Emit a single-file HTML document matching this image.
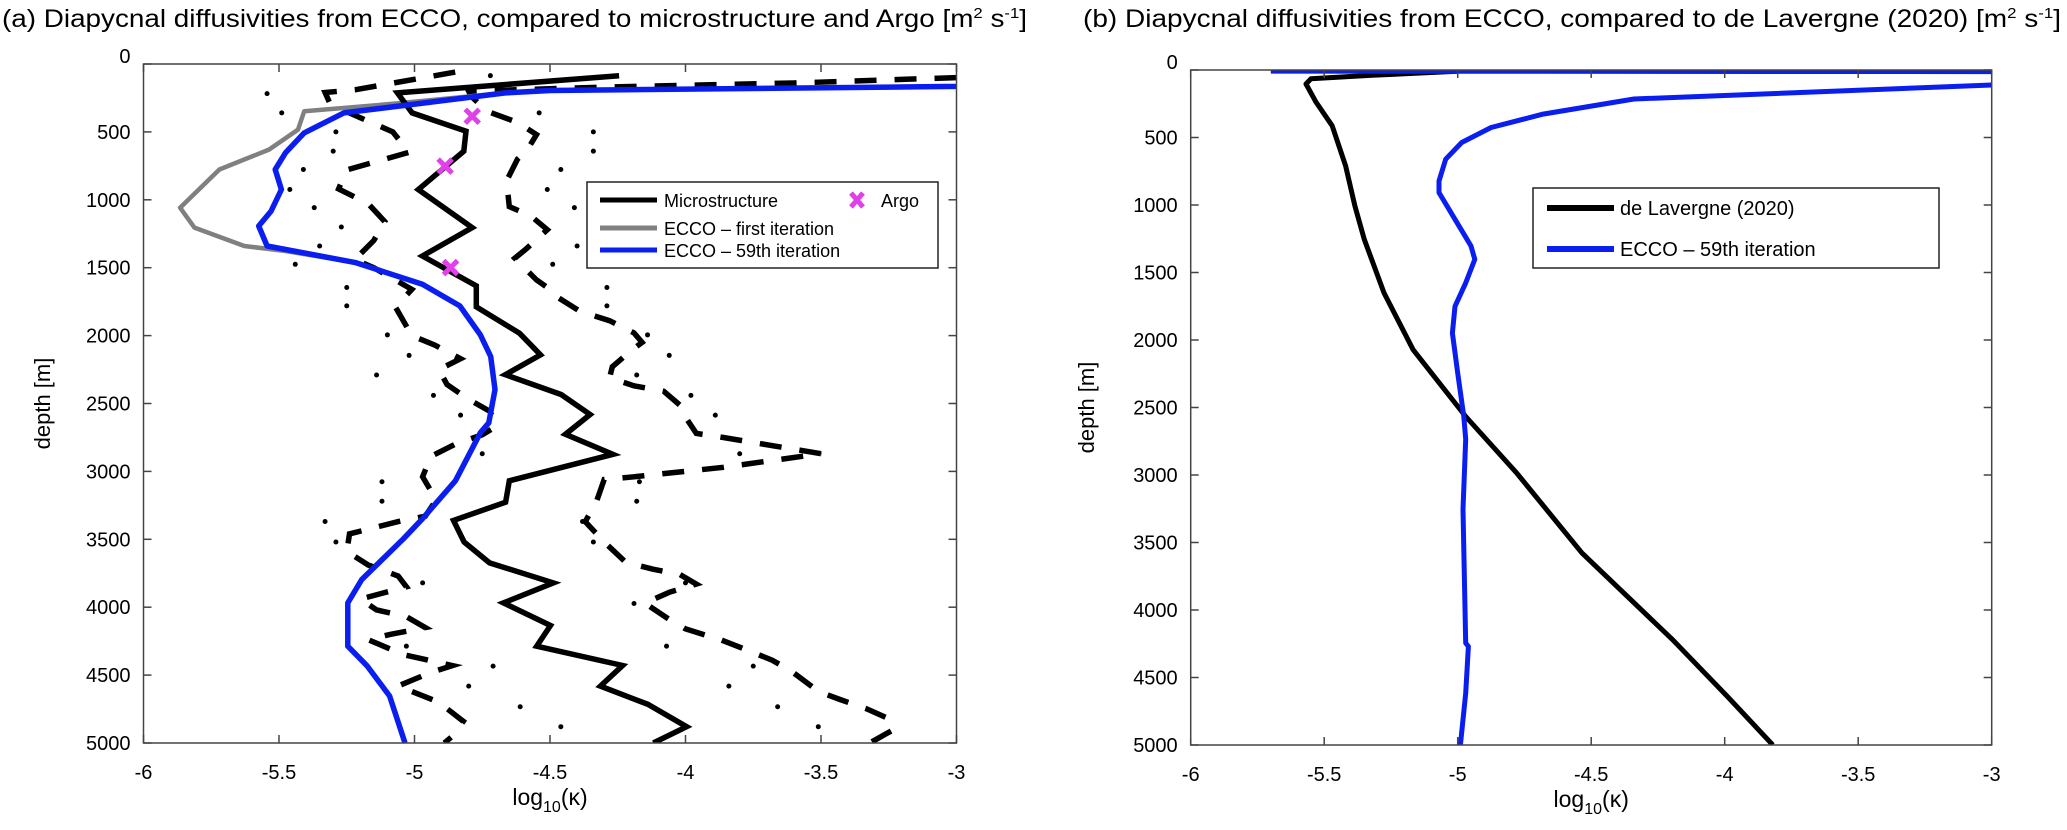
<!DOCTYPE html>
<html><head><meta charset="utf-8"><style>
html,body{margin:0;padding:0;background:#fff;}
svg{display:block;font-family:"Liberation Sans",Arial,sans-serif;}
</style></head><body>
<svg id="fig" width="2067" height="830" viewBox="0 0 2067 830" xmlns="http://www.w3.org/2000/svg">
<defs>
<clipPath id="clipA"><rect x="143.5" y="64" width="813" height="679"/></clipPath>
<clipPath id="clipB"><rect x="1190.7" y="70" width="801" height="675"/></clipPath>
</defs>
<text x="2" y="27" font-size="25" textLength="1025" lengthAdjust="spacingAndGlyphs">(a) Diapycnal diffusivities from ECCO, compared to microstructure and Argo [m<tspan dy="-9" font-size="15">2</tspan><tspan dy="9"> s</tspan><tspan dy="-9" font-size="15">-1</tspan><tspan dy="9">]</tspan></text>
<text x="1083" y="27" font-size="25" textLength="978" lengthAdjust="spacingAndGlyphs">(b) Diapycnal diffusivities from ECCO, compared to de Lavergne (2020)  [m<tspan dy="-9" font-size="15">2</tspan><tspan dy="9"> s</tspan><tspan dy="-9" font-size="15">-1</tspan><tspan dy="9">]</tspan></text>
<g id="panelA"></g>
<g id="panelB"></g>
</svg>
<script>
// ---------- shared ticks ----------
const xTicks = [-6, -5.5, -5, -4.5, -4, -3.5, -3];
const xTickLabels = ["-6", "-5.5", "-5", "-4.5", "-4", "-3.5", "-3"];
const yTicks = [0, 500, 1000, 1500, 2000, 2500, 3000, 3500, 4000, 4500, 5000];
const yTickLabels = ["0", "500", "1000", "1500", "2000", "2500", "3000", "3500", "4000", "4500", "5000"];

// ---------- panel (a) data ----------
const microDepth = [86, 213, 360, 495, 642, 924, 1205, 1414, 1634, 1788, 1983, 2142, 2288, 2434, 2581, 2727, 2874, 3069, 3227, 3361, 3520, 3674, 3821, 3968, 4135, 4287, 4429, 4581, 4715, 4880, 5000];
const microValue = [-4.245, -5.063, -5.009, -4.81, -4.818, -4.986, -4.787, -4.971, -4.772, -4.772, -4.612, -4.535, -4.665, -4.459, -4.352, -4.443, -4.268, -4.65, -4.664, -4.856, -4.817, -4.723, -4.488, -4.672, -4.498, -4.549, -4.232, -4.314, -4.139, -3.996, -4.119];

const ecco59Depth = [140, 165, 195, 213, 360, 507, 654, 777, 924, 1083, 1193, 1340, 1463, 1622, 1781, 1995, 2154, 2398, 2642, 2715, 3069, 3349, 3496, 3797, 3968, 4287, 4434, 4654, 5000];
const ecco59Value = [-2.8, -3.0, -4.5, -4.665, -5.261, -5.407, -5.476, -5.514, -5.491, -5.529, -5.575, -5.544, -5.216, -4.971, -4.833, -4.757, -4.719, -4.703, -4.726, -4.757, -4.849, -4.971, -5.041, -5.195, -5.246, -5.246, -5.174, -5.092, -5.035];

const ecco1Depth = [195, 213, 290, 348, 483, 630, 777, 1058, 1205, 1340, 1377, 1463, 1622, 1781];
const ecco1Value = [-4.5, -4.665, -5.063, -5.407, -5.43, -5.537, -5.72, -5.865, -5.812, -5.628, -5.476, -5.216, -4.971, -4.833];

const dashLoDepth = [60, 190, 210, 300, 500, 650, 780, 920, 1030, 1160, 1300, 1440, 1500, 1660, 1790, 2000, 2070, 2170, 2250, 2360, 2470, 2560, 2670, 2730, 2800, 2890, 3040, 3210, 3330, 3370, 3460, 3590, 3690, 3770, 3850, 3940, 4020, 4070, 4150, 4200, 4240, 4350, 4430, 4480, 4580, 4700, 4840, 4950, 5000];
const dashLoValue = [-4.85, -5.22, -5.33, -5.31, -5.08, -5.02, -5.25, -5.28, -5.17, -5.11, -5.15, -5.22, -5.15, -5.01, -5.07, -5.01, -4.925, -4.83, -4.91, -4.88, -4.8, -4.72, -4.7, -4.75, -4.85, -4.94, -4.97, -4.92, -4.96, -5.06, -5.24, -5.25, -5.17, -5.06, -5.03, -5.2, -5.14, -5.03, -4.96, -5.09, -5.17, -5.04, -4.86, -4.94, -5.06, -4.91, -4.82, -4.86, -4.89];

const dashHiDepth = [100, 140, 170, 200, 240, 350, 430, 520, 620, 700, 860, 1050, 1120, 1220, 1365, 1430, 1590, 1660, 1720, 1820, 1890, 1980, 2050, 2110, 2230, 2310, 2370, 2410, 2530, 2600, 2720, 2750, 2870, 2970, 3040, 3060, 3230, 3370, 3520, 3670, 3720, 3760, 3830, 3890, 3970, 4090, 4160, 4240, 4310, 4390, 4470, 4620, 4680, 4750, 4830, 4910, 5000];
const dashHiValue = [-3.0, -3.6, -4.3, -4.8, -4.79, -4.73, -4.62, -4.55, -4.58, -4.62, -4.66, -4.65, -4.57, -4.51, -4.59, -4.63, -4.55, -4.5, -4.47, -4.39, -4.28, -4.19, -4.16, -4.2, -4.27, -4.28, -4.19, -4.08, -4.01, -4.0, -3.96, -3.86, -3.5, -3.86, -4.19, -4.3, -4.33, -4.37, -4.3, -4.22, -4.12, -4.02, -3.96, -4.06, -4.15, -4.06, -4.0, -3.87, -3.78, -3.68, -3.61, -3.51, -3.43, -3.33, -3.24, -3.24, -3.32];

const dotLoDepth = [218, 360, 500, 642, 777, 924, 1058, 1200, 1340, 1475, 1646, 1781, 1995, 2146, 2290, 2440, 2586, 2870, 3076, 3220, 3369, 3520, 3821, 4287, 4434, 4581, 4733, 4880];
const dotLoValue = [-5.544, -5.49, -5.29, -5.3, -5.41, -5.46, -5.37, -5.27, -5.35, -5.44, -5.25, -5.25, -5.1, -5.02, -5.14, -4.93, -4.83, -4.75, -5.12, -5.12, -5.33, -5.29, -4.97, -5.03, -4.71, -4.8, -4.61, -4.46];
const dotHiDepth = [86, 360, 500, 642, 777, 924, 1058, 1340, 1475, 1646, 1781, 1995, 2146, 2290, 2440, 2586, 2870, 3076, 3220, 3369, 3520, 3821, 3973, 4287, 4434, 4581, 4733, 4880];
const dotHiValue = [-4.72, -4.54, -4.34, -4.34, -4.46, -4.51, -4.41, -4.4, -4.49, -4.29, -4.29, -4.14, -4.06, -4.18, -3.98, -3.89, -3.8, -4.17, -4.18, -4.38, -4.34, -4.0, -4.19, -4.07, -3.75, -3.84, -3.66, -3.51];

const argoDepth = [385, 752, 1499];
const argoValue = [-4.787, -4.887, -4.867];

// ---------- panel (b) data ----------
const lavDepth = [10, 40, 65, 104, 240, 413, 710, 1007, 1255, 1651, 2072, 2567, 2983, 3577, 4220, 4641, 5000];
const lavValue = [-5.0, -5.33, -5.55, -5.568, -5.53, -5.47, -5.42, -5.385, -5.35, -5.276, -5.167, -4.97, -4.78, -4.535, -4.195, -3.99, -3.82];
const eccoBDepth = [8, 12, 60, 111, 215, 327, 426, 537, 661, 822, 908, 1106, 1304, 1403, 1577, 1750, 1948, 2245, 2567, 2735, 3255, 4245, 4270, 4616, 5000];
const eccoBValue = [-5.7, -3.0, -2.5, -3.0, -4.34, -4.68, -4.875, -4.985, -5.045, -5.07, -5.07, -5.01, -4.95, -4.936, -4.97, -5.01, -5.02, -5.0, -4.977, -4.97, -4.98, -4.97, -4.96, -4.97, -4.99];

const NS = "http://www.w3.org/2000/svg";
function mk(tag, attrs, parent) {
  const e = document.createElementNS(NS, tag);
  for (const k in attrs) e.setAttribute(k, attrs[k]);
  parent.appendChild(e);
  return e;
}
function makeAxes(L, T, R, B) {
  return {
    x: v => L + (v + 6) / 3 * (R - L),
    y: d => T + d / 5000 * (B - T),
    L, T, R, B
  };
}
function drawFrame(g, ax, prefix, ylabX) {
  const box = mk("rect", {x: ax.L, y: ax.T, width: ax.R - ax.L, height: ax.B - ax.T, fill: "none", stroke: "#444", "stroke-width": 1.5}, g);
  
  
  xTicks.forEach((v, i) => {
    const px = ax.x(v);
    const t1 = mk("line", {x1: px, y1: ax.B, x2: px, y2: ax.B - 8, stroke: "#444", "stroke-width": 1.5}, g);
    
    
    const t2 = mk("line", {x1: px, y1: ax.T, x2: px, y2: ax.T + 8, stroke: "#444", "stroke-width": 1.5}, g);
    
    
    const lb = mk("text", {x: px, y: ax.B + 36, "font-size": 20, "text-anchor": "middle"}, g);
    lb.textContent = xTickLabels[i];
    
    
  });
  yTicks.forEach((d, i) => {
    const py = ax.y(d);
    const t1 = mk("line", {x1: ax.L, y1: py, x2: ax.L + 8, y2: py, stroke: "#444", "stroke-width": 1.5}, g);
    
    
    const t2 = mk("line", {x1: ax.R, y1: py, x2: ax.R - 8, y2: py, stroke: "#444", "stroke-width": 1.5}, g);
    
    
    const lb = mk("text", {x: ax.L - 13, y: py + 7 - (d === 0 ? 8 : 0), "font-size": 20, "text-anchor": "end"}, g);
    lb.textContent = yTickLabels[i];
    
    
  });
  const xl = mk("text", {x: (ax.L + ax.R) / 2, y: ax.B + 62, "font-size": 23, "text-anchor": "middle"}, g);
  xl.innerHTML = 'log<tspan dy="7" font-size="16">10</tspan><tspan dy="-7">(κ)</tspan>';
  
  
  const cy = (ax.T + ax.B) / 2;
  const yl = mk("text", {x: ylabX, y: cy, "font-size": 22, "text-anchor": "middle", transform: "rotate(-90 " + ylabX + " " + cy + ")"}, g);
  yl.textContent = "depth [m]";
  
  
}
function pathD(ax, depths, vals) {
  return depths.map((d, i) => (i ? "L" : "M") + ax.x(vals[i]).toFixed(1) + "," + ax.y(d).toFixed(1)).join(" ");
}

// ---------- panel A ----------
const gA = document.getElementById("panelA");
const axA = makeAxes(143.5, 64, 956.5, 743);
const plotA = mk("g", {"clip-path": "url(#clipA)"}, gA);



const pDashLo = mk("path", {d: pathD(axA, dashLoDepth, dashLoValue), fill: "none", stroke: "#000", "stroke-width": 5.5, "stroke-dasharray": "22 18"}, plotA);


const pDashHi = mk("path", {d: pathD(axA, dashHiDepth, dashHiValue), fill: "none", stroke: "#000", "stroke-width": 5.5, "stroke-dasharray": "22 18"}, plotA);


dotLoDepth.forEach((d, i) => {
  const c = mk("circle", {cx: axA.x(dotLoValue[i]), cy: axA.y(d), r: 2.5, fill: "#000"}, plotA);
  
  
});
dotHiDepth.forEach((d, i) => {
  const c = mk("circle", {cx: axA.x(dotHiValue[i]), cy: axA.y(d), r: 2.5, fill: "#000"}, plotA);
  
  
});
const pE1 = mk("path", {d: pathD(axA, ecco1Depth, ecco1Value), fill: "none", stroke: "#808080", "stroke-width": 4.5, "stroke-linejoin": "round"}, plotA);


const pMic = mk("path", {d: pathD(axA, microDepth, microValue), fill: "none", stroke: "#000", "stroke-width": 5.5}, plotA);


const pE59 = mk("path", {d: pathD(axA, ecco59Depth, ecco59Value), fill: "none", stroke: "#0a1ef0", "stroke-width": 5.5, "stroke-linejoin": "round"}, plotA);


argoDepth.forEach((d, i) => {
  const cx = axA.x(argoValue[i]), cy = axA.y(d), s = 7;
  const m = mk("path", {d: `M${cx-s},${cy-s} L${cx+s},${cy+s} M${cx-s},${cy+s} L${cx+s},${cy-s}`, stroke: "#e040e8", "stroke-width": 5}, plotA);
  
  
});
drawFrame(gA, axA, "panel-a", 50);

// legend A
const legA = mk("g", {}, gA);


mk("rect", {x: 587, y: 182, width: 351, height: 86, fill: "#fff", stroke: "#222", "stroke-width": 1.5}, legA);
const legARows = [["Microstructure", "#000", 200], ["ECCO – first iteration", "#808080", 228], ["ECCO – 59th iteration", "#0a1ef0", 250]];
legARows.forEach(r => {
  const ln = mk("line", {x1: 600, y1: r[2], x2: 657, y2: r[2], stroke: r[1], "stroke-width": 5}, legA);
  
  
  const tx = mk("text", {x: 664, y: r[2] + 7, "font-size": 18}, legA);
  tx.textContent = r[0];
  
  
});
const ax0 = mk("path", {d: "M851,193 L863,207 M851,207 L863,193", stroke: "#e040e8", "stroke-width": 5}, legA);


const at = mk("text", {x: 881, y: 207, "font-size": 18}, legA);
at.textContent = "Argo";



// ---------- panel B ----------
const gB = document.getElementById("panelB");
const axB = makeAxes(1190.7, 70, 1991.7, 745);
const plotB = mk("g", {"clip-path": "url(#clipB)"}, gB);


const pLav = mk("path", {d: pathD(axB, lavDepth, lavValue), fill: "none", stroke: "#000", "stroke-width": 5, "stroke-linejoin": "round"}, plotB);


const pEB = mk("path", {d: pathD(axB, eccoBDepth, eccoBValue), fill: "none", stroke: "#0a1ef0", "stroke-width": 5, "stroke-linejoin": "round"}, plotB);


drawFrame(gB, axB, "panel-b", 1094);

const legB = mk("g", {}, gB);


mk("rect", {x: 1533, y: 188, width: 406, height: 80, fill: "#fff", stroke: "#222", "stroke-width": 1.5}, legB);
const legBRows = [["de Lavergne (2020)", "#000", 208], ["ECCO – 59th iteration", "#0a1ef0", 249]];
legBRows.forEach(r => {
  const ln = mk("line", {x1: 1547, y1: r[2], x2: 1614, y2: r[2], stroke: r[1], "stroke-width": 6}, legB);
  
  
  const tx = mk("text", {x: 1620, y: r[2] + 7, "font-size": 20}, legB);
  tx.textContent = r[0];
  
  
});
</script>
</body></html>
